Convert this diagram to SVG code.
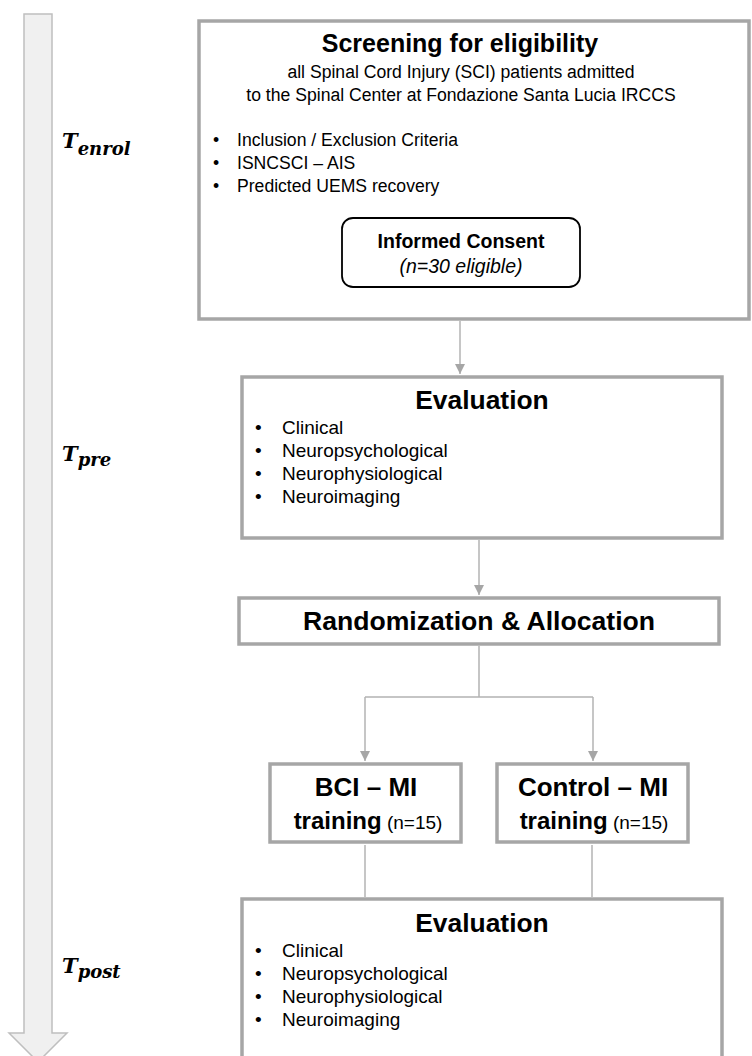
<svg xmlns="http://www.w3.org/2000/svg" width="752" height="1056" viewBox="0 0 752 1056">
<style>
.box{fill:#fff;stroke:#a6a6a6;stroke-width:3.5}
.conn{fill:none;stroke:#b3b3b3;stroke-width:1.5}
.t{font-family:"Liberation Sans",Arial,sans-serif;fill:#000}
.b{font-weight:bold}
.tl{font-family:"DejaVu Serif","Liberation Serif",serif;font-weight:bold;font-style:italic;fill:#000}
</style>
<defs>
<marker id="ah" viewBox="0 0 10 10" refX="10" refY="5" markerWidth="10" markerHeight="10" markerUnits="userSpaceOnUse" orient="auto">
<path d="M0,0 L10,5 L0,10 Z" fill="#a6a6a6"/>
</marker>
</defs>
<g id="timeline">
<path d="M24,14 H52 V1033 H67 L38,1062 L9,1033 H24 Z" fill="#f0f0f0" stroke="#bfbfbf" stroke-width="1.5"/>
<text class="tl" x="62" y="148" font-size="21">T<tspan font-size="18" dy="7">enrol</tspan></text>
<text class="tl" x="62" y="461" font-size="21">T<tspan font-size="18" dy="5">pre</tspan></text>
<text class="tl" x="62" y="973" font-size="21">T<tspan font-size="18" dy="5">post</tspan></text>
</g>
<g id="connectors">
<line class="conn" x1="460" y1="321" x2="460" y2="374" marker-end="url(#ah)"/>
<line class="conn" x1="479" y1="540" x2="479" y2="595" marker-end="url(#ah)"/>
<path class="conn" d="M479,646 V697 M365,697 H593"/>
<line class="conn" x1="365" y1="697" x2="365" y2="761" marker-end="url(#ah)"/>
<line class="conn" x1="593" y1="697" x2="593" y2="761" marker-end="url(#ah)"/>
<line class="conn" x1="365" y1="845" x2="365" y2="897"/>
<line class="conn" x1="592" y1="845" x2="592" y2="897"/>
</g>
<g id="screening">
<rect class="box" x="199" y="21" width="550" height="298"/>
<text class="t b" x="460" y="52" font-size="25" text-anchor="middle">Screening for eligibility</text>
<text class="t" x="461" y="78" font-size="17.6" text-anchor="middle">all Spinal Cord Injury (SCI) patients admitted</text>
<text class="t" x="461" y="101" font-size="17.6" text-anchor="middle">to the Spinal Center at Fondazione Santa Lucia IRCCS</text>
<text class="t" font-size="17.6"><tspan x="213" y="146">•</tspan><tspan x="237" y="146">Inclusion / Exclusion Criteria</tspan><tspan x="213" y="169">•</tspan><tspan x="237" y="169">ISNCSCI – AIS</tspan><tspan x="213" y="192">•</tspan><tspan x="237" y="192">Predicted UEMS recovery</tspan></text>
</g>
<g id="consent">
<rect x="342" y="218" width="238" height="69" rx="11" fill="#fff" stroke="#000" stroke-width="1.8"/>
<text class="t b" x="461" y="248" font-size="19.5" text-anchor="middle">Informed Consent</text>
<text class="t" x="461" y="273" font-size="19.5" font-style="italic" text-anchor="middle">(n=30 eligible)</text>
</g>
<g id="eval-pre">
<rect class="box" x="242" y="377" width="480" height="161"/>
<text class="t b" x="482" y="409" font-size="26.4" text-anchor="middle">Evaluation</text>
<text class="t" font-size="19"><tspan x="255" y="434">•</tspan><tspan x="282" y="434">Clinical</tspan><tspan x="255" y="457">•</tspan><tspan x="282" y="457">Neuropsychological</tspan><tspan x="255" y="480">•</tspan><tspan x="282" y="480">Neurophysiological</tspan><tspan x="255" y="503">•</tspan><tspan x="282" y="503">Neuroimaging</tspan></text>
</g>
<g id="randomization">
<rect class="box" x="239" y="598" width="480" height="46"/>
<text class="t b" x="479" y="630" font-size="26.6" text-anchor="middle">Randomization &amp; Allocation</text>
</g>
<g id="bci">
<rect class="box" x="270" y="764" width="191" height="78"/>
<text class="t b" x="366" y="796" font-size="26" text-anchor="middle">BCI – MI</text>
<text class="t" x="368" y="829" text-anchor="middle"><tspan class="b" font-size="24">training</tspan><tspan font-size="19"> (n=15)</tspan></text>
</g>
<g id="control">
<rect class="box" x="497" y="764" width="191" height="78"/>
<text class="t b" x="593" y="796" font-size="26" text-anchor="middle">Control – MI</text>
<text class="t" x="594" y="829" text-anchor="middle"><tspan class="b" font-size="24">training</tspan><tspan font-size="19"> (n=15)</tspan></text>
</g>
<g id="eval-post">
<rect class="box" x="242" y="899" width="480" height="170"/>
<text class="t b" x="482" y="932" font-size="26.4" text-anchor="middle">Evaluation</text>
<text class="t" font-size="19"><tspan x="255" y="957">•</tspan><tspan x="282" y="957">Clinical</tspan><tspan x="255" y="980">•</tspan><tspan x="282" y="980">Neuropsychological</tspan><tspan x="255" y="1003">•</tspan><tspan x="282" y="1003">Neurophysiological</tspan><tspan x="255" y="1026">•</tspan><tspan x="282" y="1026">Neuroimaging</tspan></text>
</g>
</svg>
